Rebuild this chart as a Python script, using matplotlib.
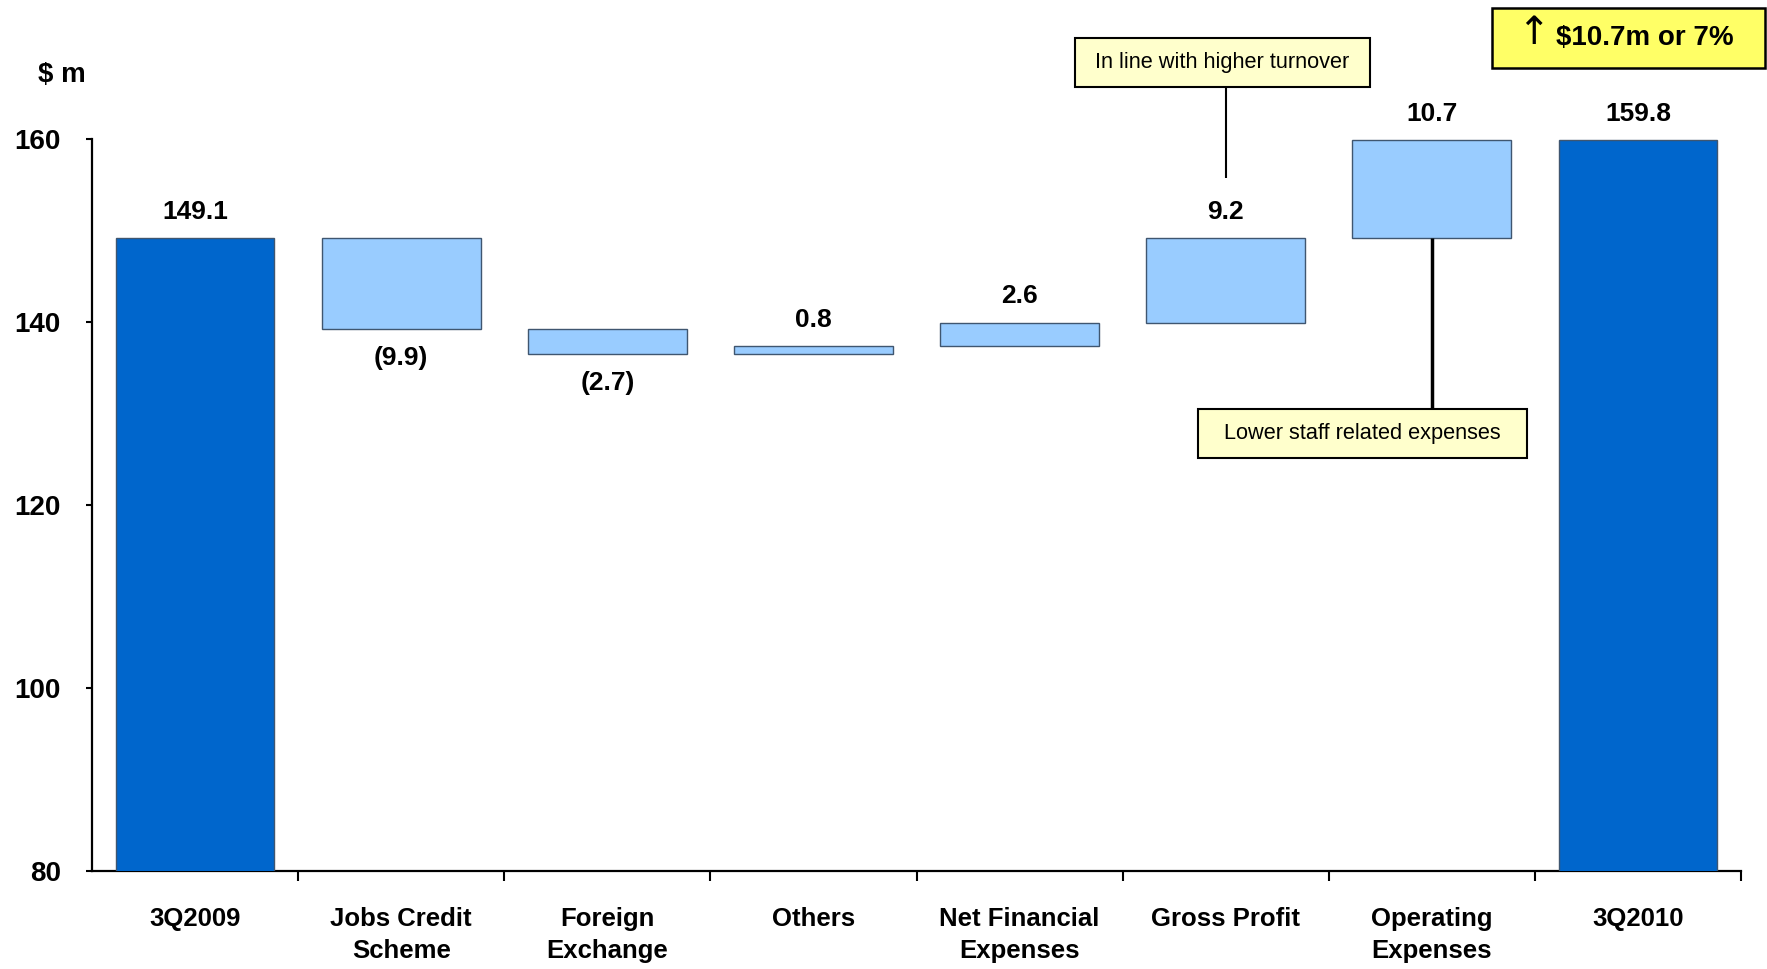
import numpy as np
import matplotlib
matplotlib.use('Agg')
import matplotlib.pyplot as plt
from matplotlib.patches import Rectangle


# chart data
categories = ['3Q2009', 'Jobs Credit\nScheme', 'Foreign\nExchange', 'Others',
              'Net Financial\nExpenses', 'Gross Profit', 'Operating\nExpenses', '3Q2010']
start_value = 149.1
changes = [-9.9, -2.7, 0.8, 2.6, 9.2, 10.7]
end_value = 159.8
y_ticks = [80, 100, 120, 140, 160]

DARK_BLUE = '#0066CC'
LIGHT_BLUE = '#99CCFF'
EDGE = '#3F5670'

plt.rcParams['font.family'] = ['Liberation Sans', 'DejaVu Sans']

# waterfall bottoms / heights
levels = start_value + np.cumsum([0] + changes)
bottoms = [0] + [min(levels[i], levels[i + 1]) for i in range(len(changes))] + [0]
heights = [start_value] + [abs(c) for c in changes] + [end_value]
values = [start_value] + changes + [end_value]
colors = [DARK_BLUE] + [LIGHT_BLUE] * len(changes) + [DARK_BLUE]

fig = plt.figure(figsize=(17.67, 9.69), dpi=100)
ax = fig.add_axes([0.0521, 0.1011, 0.9332, 0.7558])

x = np.arange(len(categories))
ax.bar(x, heights, bottom=bottoms, width=0.77, color=colors,
       edgecolor=EDGE, linewidth=1.0, zorder=3)

ax.set_xlim(-0.5, len(categories) - 0.5)
ax.set_ylim(80, 160)

# value labels
for i, v in enumerate(values):
    top = bottoms[i] + heights[i]
    if v < 0:
        txt = '({:.1f})'.format(-v)
        ax.annotate(txt, (i, bottoms[i]), xytext=(0, -21), textcoords='offset points',
                    ha='center', va='center', fontsize=19, fontweight='bold')
    else:
        txt = '{:.1f}'.format(v)
        ax.annotate(txt, (i, top), xytext=(0, 19), textcoords='offset points',
                    ha='center', va='center', fontsize=19, fontweight='bold',
                    annotation_clip=False)

# axes styling
for s in ['top', 'right']:
    ax.spines[s].set_visible(False)
ax.spines['left'].set_linewidth(1.6)
ax.spines['bottom'].set_linewidth(1.6)

ax.set_yticks(y_ticks)
ax.set_yticklabels([str(t) for t in y_ticks], fontsize=20, fontweight='bold')
ax.tick_params(axis='y', length=4.5, width=1.5, pad=18)

ax.set_xticks(x)
ax.set_xticklabels(categories, fontsize=18.5, fontweight='bold', linespacing=1.4)
ax.tick_params(axis='x', which='major', length=0, pad=26)
ax.set_xticks(np.arange(0.5, len(categories), 1.0), minor=True)
ax.tick_params(axis='x', which='minor', length=7, width=1.5)

fig.text(0.035, 0.923, '$ m', fontsize=20, fontweight='bold', ha='center', va='center')

# call-out boxes
ax.vlines(5, 155.7, 165.5, color='black', linewidth=1.5, clip_on=False, zorder=4)
ax.text(4.983, 168.3, ' In line with higher turnover ', ha='center', va='center',
        fontsize=15.7, clip_on=False,
        bbox=dict(boxstyle='square,pad=0.65', facecolor='#FFFFCC', edgecolor='black', linewidth=1.5))

ax.vlines(6, 130.6, 149.1, color='black', linewidth=2.5, zorder=4)
ax.text(5.664, 127.8, '  Lower staff related expenses  ', ha='center', va='center',
        fontsize=15.7, zorder=5,
        bbox=dict(boxstyle='square,pad=0.65', facecolor='#FFFFCC', edgecolor='black', linewidth=1.5))

# headline box: yellow rectangle, up arrow and text
fig.patches.append(Rectangle((0.8444, 0.9298), 0.1545, 0.0619, transform=fig.transFigure,
                             facecolor='#FFFF66', edgecolor='black', linewidth=1.8))
fig.text(0.8676, 0.966, '\u2191', ha='center', va='center', fontsize=28,
         family='DejaVu Sans', fontweight='normal')
fig.text(0.8805, 0.961, '$10.7m or 7%', ha='left', va='center',
         fontsize=20, fontweight='bold')

fig.savefig('out.png', dpi=100)
